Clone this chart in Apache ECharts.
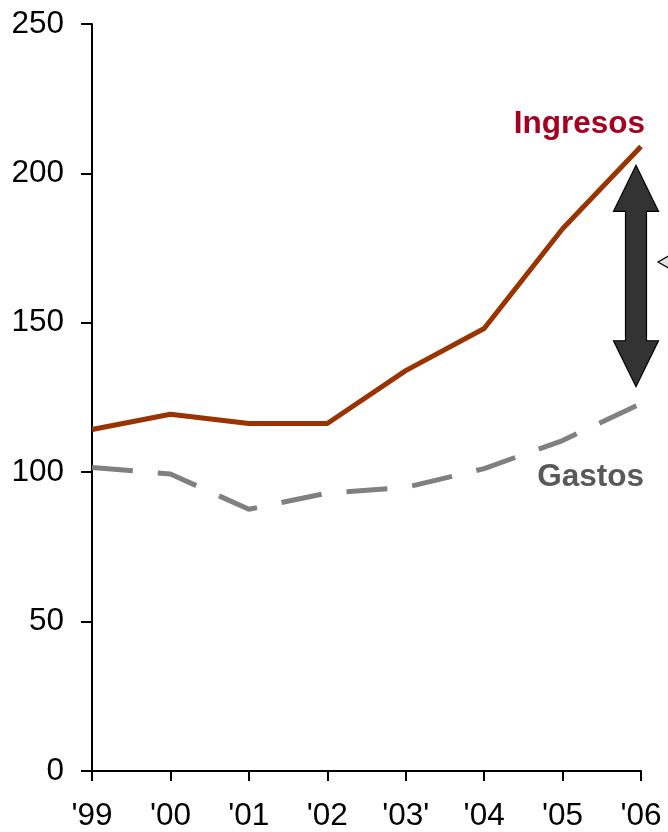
<!DOCTYPE html>
<html>
<head>
<meta charset="utf-8">
<script src="https://cdn.jsdelivr.net/npm/echarts@6/dist/echarts.min.js"></script>
<style>
html,body{margin:0;padding:0;background:#fff;}
#c{width:668px;height:832px;}
</style>
</head>
<body>
<div id="c"></div>
<script>
const categories = ["'99", "'00", "'01", "'02", "'03'", "'04", "'05", "'06"];
const ingresos = [114.3, 119.4, 116.3, 116.3, 134.0, 148.1, 181.5, 209.0];
const gastos = [101.6, 99.4, 87.6, 93.0, 94.9, 101.2, 110.6, 123.0];
const yTicks = [0, 50, 100, 150, 200, 250];
const arrowRange = [202.7, 128.6];

(function () {
const FONT = 'Liberation Sans, Arial, sans-serif';
const chart = echarts.init(document.getElementById('c'), null, {renderer: 'canvas'});

chart.setOption({
  animation: false,
  backgroundColor: '#ffffff',
  grid: {left: 92, right: 27, top: 24, bottom: 59},
  xAxis: {
    type: 'category',
    data: categories,
    boundaryGap: false,
    axisLine: {lineStyle: {color: '#000', width: 2}},
    axisTick: {show: true, length: 10, lineStyle: {color: '#000', width: 2}},
    axisLabel: {color: '#000', fontSize: 31.5, fontFamily: FONT, margin: 29, interval: 0, showMinLabel: true, showMaxLabel: true, hideOverlap: false},
    splitLine: {show: false}
  },
  yAxis: {
    type: 'value',
    min: yTicks[0],
    max: yTicks[yTicks.length - 1],
    interval: yTicks[1] - yTicks[0],
    axisLine: {show: true, lineStyle: {color: '#000', width: 2}},
    axisTick: {show: true, length: 11, lineStyle: {color: '#000', width: 2}},
    axisLabel: {color: '#000', fontSize: 31.5, fontFamily: FONT, margin: 28},
    splitLine: {show: false}
  },
  series: [
    {
      name: 'Ingresos', type: 'line', data: ingresos, symbol: 'none', smooth: false,
      lineStyle: {color: '#993300', width: 5}, z: 3
    },
    {
      name: 'Gastos', type: 'line', data: gastos, symbol: 'none', smooth: false,
      lineStyle: {color: '#808080', width: 5, type: [41, 25], cap: 'butt'}, z: 2
    }
  ]
});

const pTop = chart.convertToPixel({xAxisIndex: 0, yAxisIndex: 0}, [categories[7], arrowRange[0]]);
const pBot = chart.convertToPixel({xAxisIndex: 0, yAxisIndex: 0}, [categories[7], arrowRange[1]]);
const cx = pTop[0] - 5;
const ty = pTop[1], by = pBot[1];
const hw = 22.5, sw = 10.5, hh = 46;

chart.setOption({
  graphic: [
    {
      type: 'polygon', z: 10,
      shape: {points: [
        [cx, ty], [cx + hw, ty + hh], [cx + sw, ty + hh], [cx + sw, by - hh],
        [cx + hw, by - hh], [cx, by], [cx - hw, by - hh], [cx - sw, by - hh],
        [cx - sw, ty + hh], [cx - hw, ty + hh]
      ]},
      style: {fill: '#333333', stroke: '#000000', lineWidth: 1.2}
    },
    {
      type: 'polygon', z: 10,
      shape: {points: [[658, 262], [672, 254], [672, 270]]},
      style: {fill: '#e3e3e3', stroke: '#000000', lineWidth: 1.2}
    },
    {
      type: 'text', z: 11,
      style: {text: 'Ingresos', x: 645, y: 124, align: 'right', verticalAlign: 'middle',
        font: 'bold 31.5px ' + FONT, fill: '#A50021'}
    },
    {
      type: 'text', z: 11,
      style: {text: 'Gastos', x: 644, y: 477, align: 'right', verticalAlign: 'middle',
        font: 'bold 31.5px ' + FONT, fill: '#595959'}
    }
  ]
});
})();
</script>
</body>
</html>
